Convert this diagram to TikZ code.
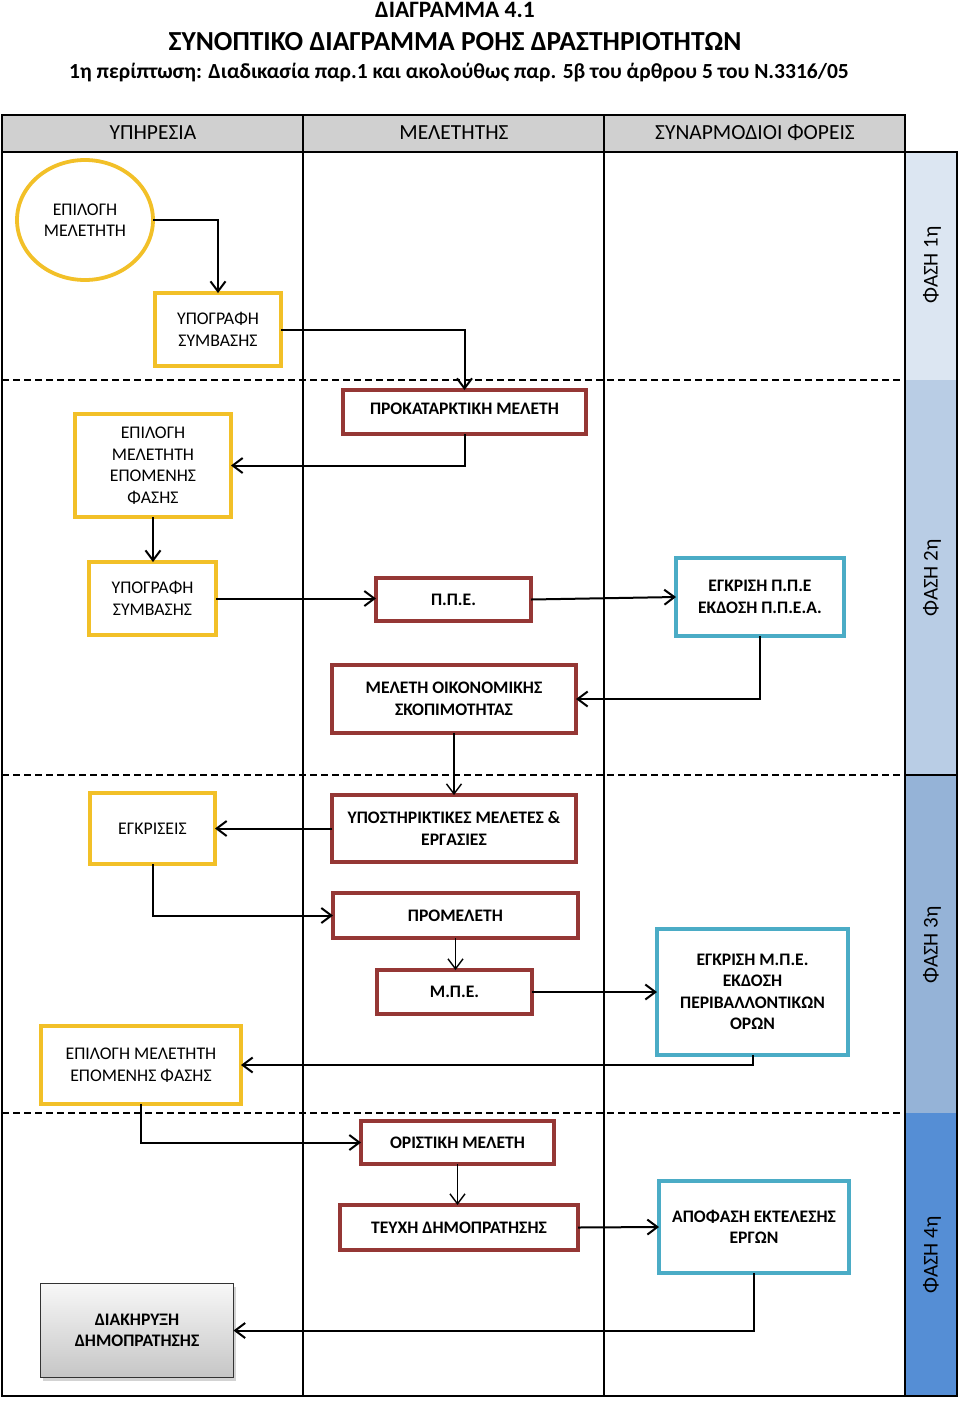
\documentclass[tikz,border=0pt]{standalone}
\usepackage{fontspec}
\setmainfont{Carlito}
\usetikzlibrary{arrows.meta,shapes.geometric,shadows,calc}
\definecolor{yel}{RGB}{242,192,40}
\definecolor{dred}{RGB}{149,55,53}
\definecolor{cyn}{RGB}{75,172,198}
\definecolor{hdr}{RGB}{208,208,208}
\definecolor{ph1}{RGB}{220,230,242}
\definecolor{ph2}{RGB}{185,205,229}
\definecolor{ph3}{RGB}{149,179,215}
\definecolor{ph4}{RGB}{85,142,213}
\begin{document}
\begin{tikzpicture}[x=1pt,y=-1pt,
  every node/.style={inner sep=0pt,outer sep=0pt,align=center},
  ybox/.style={draw=yel,line width=3.8pt,fill=white,font=\fontsize{17.8}{21.5}\selectfont},
  rbox/.style={draw=dred,line width=3.4pt,fill=white,font=\bfseries\fontsize{17.6}{21.5}\selectfont},
  cbox/.style={draw=cyn,line width=3.4pt,fill=white,font=\bfseries\fontsize{17.6}{21.5}\selectfont},
  arr/.style={draw=black,line width=2pt,-{Straight Barb[length=10pt,width=15pt,line width=2pt]}},
  arrt/.style={draw=black,line width=1.4pt,-{Straight Barb[length=10pt,width=15pt,line width=1.4pt]}},
  sep/.style={draw=black,line width=1.5pt,dash pattern=on 7pt off 4pt},
  frame/.style={draw=black,line width=2pt},
  hlabel/.style={font=\fontsize{21.5}{24}\selectfont},
  phlabel/.style={rotate=90,font=\fontsize{21}{24}\selectfont}
]
\useasboundingbox (0,0) rectangle (960,1401);
% titles
\node[font=\bfseries\fontsize{23.5}{26}\selectfont] (t1) at (455,10) {ΔΙΑΓΡΑΜΜΑ 4.1};
\node[font=\bfseries\fontsize{27.5}{30}\selectfont] (t2) at (455,42) {ΣΥΝΟΠΤΙΚΟ ΔΙΑΓΡΑΜΜΑ ΡΟΗΣ ΔΡΑΣΤΗΡΙΟΤΗΤΩΝ};
\node[font=\bfseries\fontsize{21.5}{24}\selectfont] (t3) at (459,73) {1η περίπτωση: Διαδικασία παρ.1 και ακολούθως παρ. 5β του άρθρου 5 του Ν.3316/05};
% phase column
\fill[ph1] (905,152) rectangle (957,380);
\fill[ph2] (905,380) rectangle (957,775);
\fill[ph3] (905,775) rectangle (957,1113);
\fill[ph4] (905,1113) rectangle (957,1396);
\draw[frame] (905,152) rectangle (957,1396);
\draw[frame] (905,775) -- (957,775);
% header
\fill[hdr] (2,115) rectangle (905,152);
\draw[frame] (2,115) rectangle (905,1396);
\draw[frame] (2,152) -- (905,152);
\draw[frame] (303,115) -- (303,1396);
\draw[frame] (604,115) -- (604,1396);
% dashed phase separators
\draw[sep] (2,380) -- (905,380);
\draw[sep] (2,775) -- (905,775);
\draw[sep] (2,1113) -- (905,1113);
% header labels
\node[hlabel] (h1) at (153,133) {ΥΠΗΡΕΣΙΑ};
\node[hlabel] (h2) at (454,133) {ΜΕΛΕΤΗΤΗΣ};
\node[hlabel] (h3) at (755,133) {ΣΥΝΑΡΜΟΔΙΟΙ ΦΟΡΕΙΣ};
% phase labels
\node[phlabel] (p1) at (932,265) {ΦΑΣΗ 1η};
\node[phlabel] (p2) at (932,578) {ΦΑΣΗ 2η};
\node[phlabel] (p3) at (932,945) {ΦΑΣΗ 3η};
\node[phlabel] (p4) at (932,1255) {ΦΑΣΗ 4η};
% nodes
\node[ybox,ellipse,minimum width=136pt,minimum height=120pt] (ell) at (85,220) {ΕΠΙΛΟΓΗ\\ΜΕΛΕΤΗΤΗ};
\node[ybox,minimum width=126pt,minimum height=73pt] (ys1) at (218,329.5) {ΥΠΟΓΡΑΦΗ\\ΣΥΜΒΑΣΗΣ};
\node[rbox,minimum width=243pt,minimum height=44pt,text depth=7pt] (prok) at (464.5,412) {ΠΡΟΚΑΤΑΡΚΤΙΚΗ ΜΕΛΕΤΗ};
\node[ybox,minimum width=156pt,minimum height=103pt] (ep2) at (153,465.5) {ΕΠΙΛΟΓΗ\\ΜΕΛΕΤΗΤΗ\\ΕΠΟΜΕΝΗΣ\\ΦΑΣΗΣ};
\node[ybox,minimum width=127pt,minimum height=73pt] (ys2) at (152.5,598.5) {ΥΠΟΓΡΑΦΗ\\ΣΥΜΒΑΣΗΣ};
\node[rbox,minimum width=155pt,minimum height=43pt] (ppe) at (453.5,599.5) {Π.Π.Ε.};
\node[cbox,minimum width=168pt,minimum height=78pt] (egk1) at (760,597) {ΕΓΚΡΙΣΗ Π.Π.Ε\\ΕΚΔΟΣΗ Π.Π.Ε.Α.};
\node[rbox,minimum width=244pt,minimum height=68pt] (mos) at (454,699) {ΜΕΛΕΤΗ ΟΙΚΟΝΟΜΙΚΗΣ\\ΣΚΟΠΙΜΟΤΗΤΑΣ};
\node[rbox,minimum width=244pt,minimum height=67pt] (ypo) at (454,828.5) {ΥΠΟΣΤΗΡΙΚΤΙΚΕΣ ΜΕΛΕΤΕΣ \&\\ΕΡΓΑΣΙΕΣ};
\node[ybox,minimum width=125pt,minimum height=71pt] (egkr) at (152.5,828.5) {ΕΓΚΡΙΣΕΙΣ};
\node[rbox,minimum width=245pt,minimum height=45pt] (prom) at (455.5,915.5) {ΠΡΟΜΕΛΕΤΗ};
\node[rbox,minimum width=155pt,minimum height=44pt] (mpe) at (454.5,992) {Μ.Π.Ε.};
\node[cbox,minimum width=191pt,minimum height=126pt] (egk2) at (752.5,992) {ΕΓΚΡΙΣΗ Μ.Π.Ε.\\ΕΚΔΟΣΗ\\ΠΕΡΙΒΑΛΛΟΝΤΙΚΩΝ\\ΟΡΩΝ};
\node[ybox,minimum width=200pt,minimum height=78pt] (ep3) at (141,1065) {ΕΠΙΛΟΓΗ ΜΕΛΕΤΗΤΗ\\ΕΠΟΜΕΝΗΣ ΦΑΣΗΣ};
\node[rbox,minimum width=193pt,minimum height=43pt] (orist) at (457.5,1142.5) {ΟΡΙΣΤΙΚΗ ΜΕΛΕΤΗ};
\node[rbox,minimum width=238pt,minimum height=45pt] (teyxi) at (459,1227.5) {ΤΕΥΧΗ ΔΗΜΟΠΡΑΤΗΣΗΣ};
\node[cbox,minimum width=190pt,minimum height=92pt] (apof) at (754,1227) {ΑΠΟΦΑΣΗ ΕΚΤΕΛΕΣΗΣ\\ΕΡΓΩΝ};
\node[draw=black!80,line width=1.2pt,top color=gray!6,bottom color=gray!45,
      drop shadow={opacity=0.35,shadow xshift=2pt,shadow yshift=-3pt},
      font=\bfseries\fontsize{17.6}{21.5}\selectfont,
      minimum width=193pt,minimum height=94pt] (diak) at (137,1330.5) {ΔΙΑΚΗΡΥΞΗ\\ΔΗΜΟΠΡΑΤΗΣΗΣ};
% connectors
\draw[arr] (ell.east) -| (ys1.north);
\draw[arr] (ys1.east) -| (prok.north);
\draw[arr] (prok.south) |- (ep2.east);
\draw[arr] (ep2.south) -- (ep2.south |- ys2.north);
\draw[arr] (ys2.east) -- (ys2.east -| ppe.west);
\draw[arr] (ppe.east) -- (egk1.west);
\draw[arr] (egk1.south) |- (mos.east);
\draw[arrt] (mos.south) -- (ypo.north);
\draw[arr] (ypo.west) -- (egkr.east);
\draw[arr] (egkr.south) |- (prom.west);
\draw[arrt] (prom.south) -- (prom.south |- mpe.north);
\draw[arr] (mpe.east) -- (egk2.west);
\draw[arr] (egk2.south) |- (ep3.east);
\draw[arr] (ep3.south) |- (orist.west);
\draw[arrt] (orist.south) -- (orist.south |- teyxi.north);
\draw[arr] (teyxi.east) -- (apof.west);
\draw[arr] (apof.south) |- (diak.east);
\end{tikzpicture}
\end{document}
